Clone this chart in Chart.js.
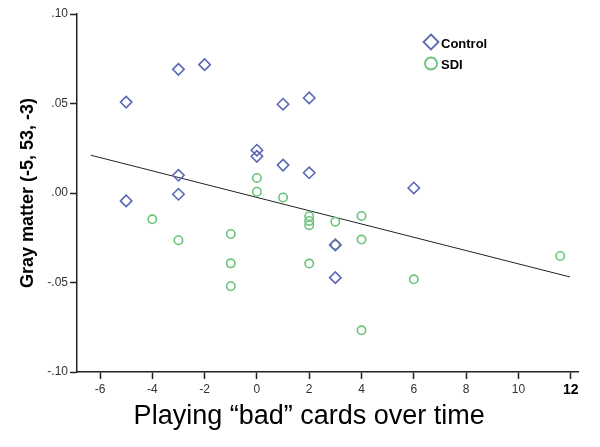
<!DOCTYPE html>
<html>
<head>
<meta charset="utf-8">
<script src="https://cdn.jsdelivr.net/npm/chart.js@4/dist/chart.umd.min.js"></script>
<style>
  html, body { margin: 0; padding: 0; background: #fff; }
  #wrap { width: 600px; height: 447px; }
</style>
</head>
<body>
<div id="wrap"><canvas id="grafico"></canvas></div>
<script>
// datos
const controlX = [-5, -3, -2, 1, 2, 0, 0, 1, 2, -3, -3, -5, 6, 3, 3];
const controlY = [0.0508, 0.0691, 0.0717, 0.0496, 0.0531, 0.0239, 0.0205, 0.0156, 0.0113, 0.0099, -0.0007, -0.0044, 0.0028, -0.0290, -0.0473];

const sdiX = [0, 0, 1, 2, 2, 2, -4, -3, -1, -1, -1, 2, 3, 4, 3, 4, 6, 4, 11.6];
const sdiY = [0.0084, 0.0007, -0.0025, -0.0130, -0.0156, -0.0180, -0.0147, -0.0264, -0.0229, -0.0393, -0.0521, -0.0394, -0.0160, -0.0128, -0.0290, -0.0260, -0.0482, -0.0767, -0.0352];

const ajusteX = [-6.35, 11.97];
const ajusteY = [0.0211, -0.0469];

const xTicks = [-6, -4, -2, 0, 2, 4, 6, 8, 10, 12];
const yTicks = [-0.10, -0.05, 0.00, 0.05, 0.10];

const fuente = '"Liberation Sans", Arial, sans-serif';
const azul = '#5a68b6';
const verde = '#68c478';

const puntos = (xs, ys) => xs.map((x, i) => ({ x: x, y: ys[i] }));

// titulo del eje x, centrado como en la figura original
const tituloX = {
    id: 'tituloX',
    afterDraw(chart) {
        const ctx = chart.ctx;
        const sx = chart.scales.x;
        ctx.save();
        ctx.font = '27px ' + fuente;
        ctx.fillStyle = '#000';
        ctx.textAlign = 'center';
        ctx.textBaseline = 'alphabetic';
        ctx.fillText('Playing \u201cbad\u201d cards over time', sx.getPixelForValue(2), chart.height - 23);
        ctx.restore();
    }
};

// leyenda dentro del area del grafico
const leyenda = {
    id: 'leyenda',
    afterDraw(chart) {
        const ctx = chart.ctx;
        const area = chart.chartArea;
        const x0 = area.left + 354;
        const y0 = area.top + 28;
        ctx.save();
        ctx.lineWidth = 1.8;
        // diamante
        ctx.strokeStyle = azul;
        ctx.beginPath();
        ctx.moveTo(x0, y0 - 7.5);
        ctx.lineTo(x0 + 7.5, y0);
        ctx.lineTo(x0, y0 + 7.5);
        ctx.lineTo(x0 - 7.5, y0);
        ctx.closePath();
        ctx.stroke();
        // circulo
        ctx.strokeStyle = verde;
        ctx.beginPath();
        ctx.arc(x0, y0 + 21.5, 6, 0, Math.PI * 2);
        ctx.stroke();
        ctx.fillStyle = '#000';
        ctx.font = 'bold 13px ' + fuente;
        ctx.textBaseline = 'middle';
        ctx.fillText(chart.data.datasets[0].label, x0 + 10, y0 + 2);
        ctx.fillText(chart.data.datasets[1].label, x0 + 10, y0 + 23);
        ctx.restore();
    }
};

const ctx = document.getElementById('grafico').getContext('2d');

new Chart(ctx, {
    type: 'scatter',
    data: {
        datasets: [{
            label: 'Control',
            data: puntos(controlX, controlY),
            pointStyle: 'rectRot',
            pointRadius: 5.7,
            pointBorderWidth: 1.6,
            borderColor: azul,
            backgroundColor: 'rgba(0,0,0,0)'
        }, {
            label: 'SDI',
            data: puntos(sdiX, sdiY),
            pointStyle: 'circle',
            pointRadius: 4.2,
            pointBorderWidth: 1.6,
            borderColor: verde,
            backgroundColor: 'rgba(0,0,0,0)'
        }, {
            type: 'line',
            label: 'Ajuste',
            data: puntos(ajusteX, ajusteY),
            borderColor: '#222',
            borderWidth: 1,
            pointRadius: 0,
            fill: false
        }]
    },
    options: {
        responsive: true,
        maintainAspectRatio: false,
        animation: false,
        layout: {
            padding: { top: 14, right: 22, left: 0, bottom: 0 }
        },
        plugins: {
            legend: { display: false },
            tooltip: { enabled: false }
        },
        scales: {
            x: {
                type: 'linear',
                min: -6.88,
                max: 12.28,
                afterBuildTicks: scale => {
                    scale.ticks = xTicks.map(v => ({ value: v }));
                },
                afterFit: scale => {
                    scale.height = 75;
                },
                grid: {
                    drawOnChartArea: false,
                    tickLength: 7,
                    tickColor: '#222',
                    tickWidth: 1.5
                },
                border: { color: '#222', width: 1.5 },
                ticks: {
                    padding: 3,
                    maxRotation: 0,
                    autoSkip: false,
                    color: ctx => ctx.tick && ctx.tick.value === 12 ? '#000' : '#333',
                    font: ctx => ctx.tick && ctx.tick.value === 12
                        ? { family: fuente, size: 14, weight: 'bold' }
                        : { family: fuente, size: 12 },
                    callback: v => String(v)
                }
            },
            y: {
                type: 'linear',
                min: -0.1,
                max: 0.1,
                afterBuildTicks: scale => {
                    scale.ticks = yTicks.map(v => ({ value: v }));
                },
                afterFit: scale => {
                    scale.width = 77;
                },
                grid: {
                    drawOnChartArea: false,
                    tickLength: 7,
                    tickColor: '#222',
                    tickWidth: 1.5
                },
                border: { color: '#222', width: 1.5 },
                ticks: {
                    padding: 2,
                    color: '#333',
                    font: { family: fuente, size: 12 },
                    callback: v => v.toFixed(2).replace('0.', '.')
                },
                title: {
                    display: true,
                    text: 'Gray matter (-5, 53, -3)',
                    color: '#000',
                    font: { family: fuente, size: 18, weight: 'bold' },
                    padding: { top: 17, bottom: 0 }
                }
            }
        }
    },
    plugins: [tituloX, leyenda]
});
</script>
</body>
</html>
